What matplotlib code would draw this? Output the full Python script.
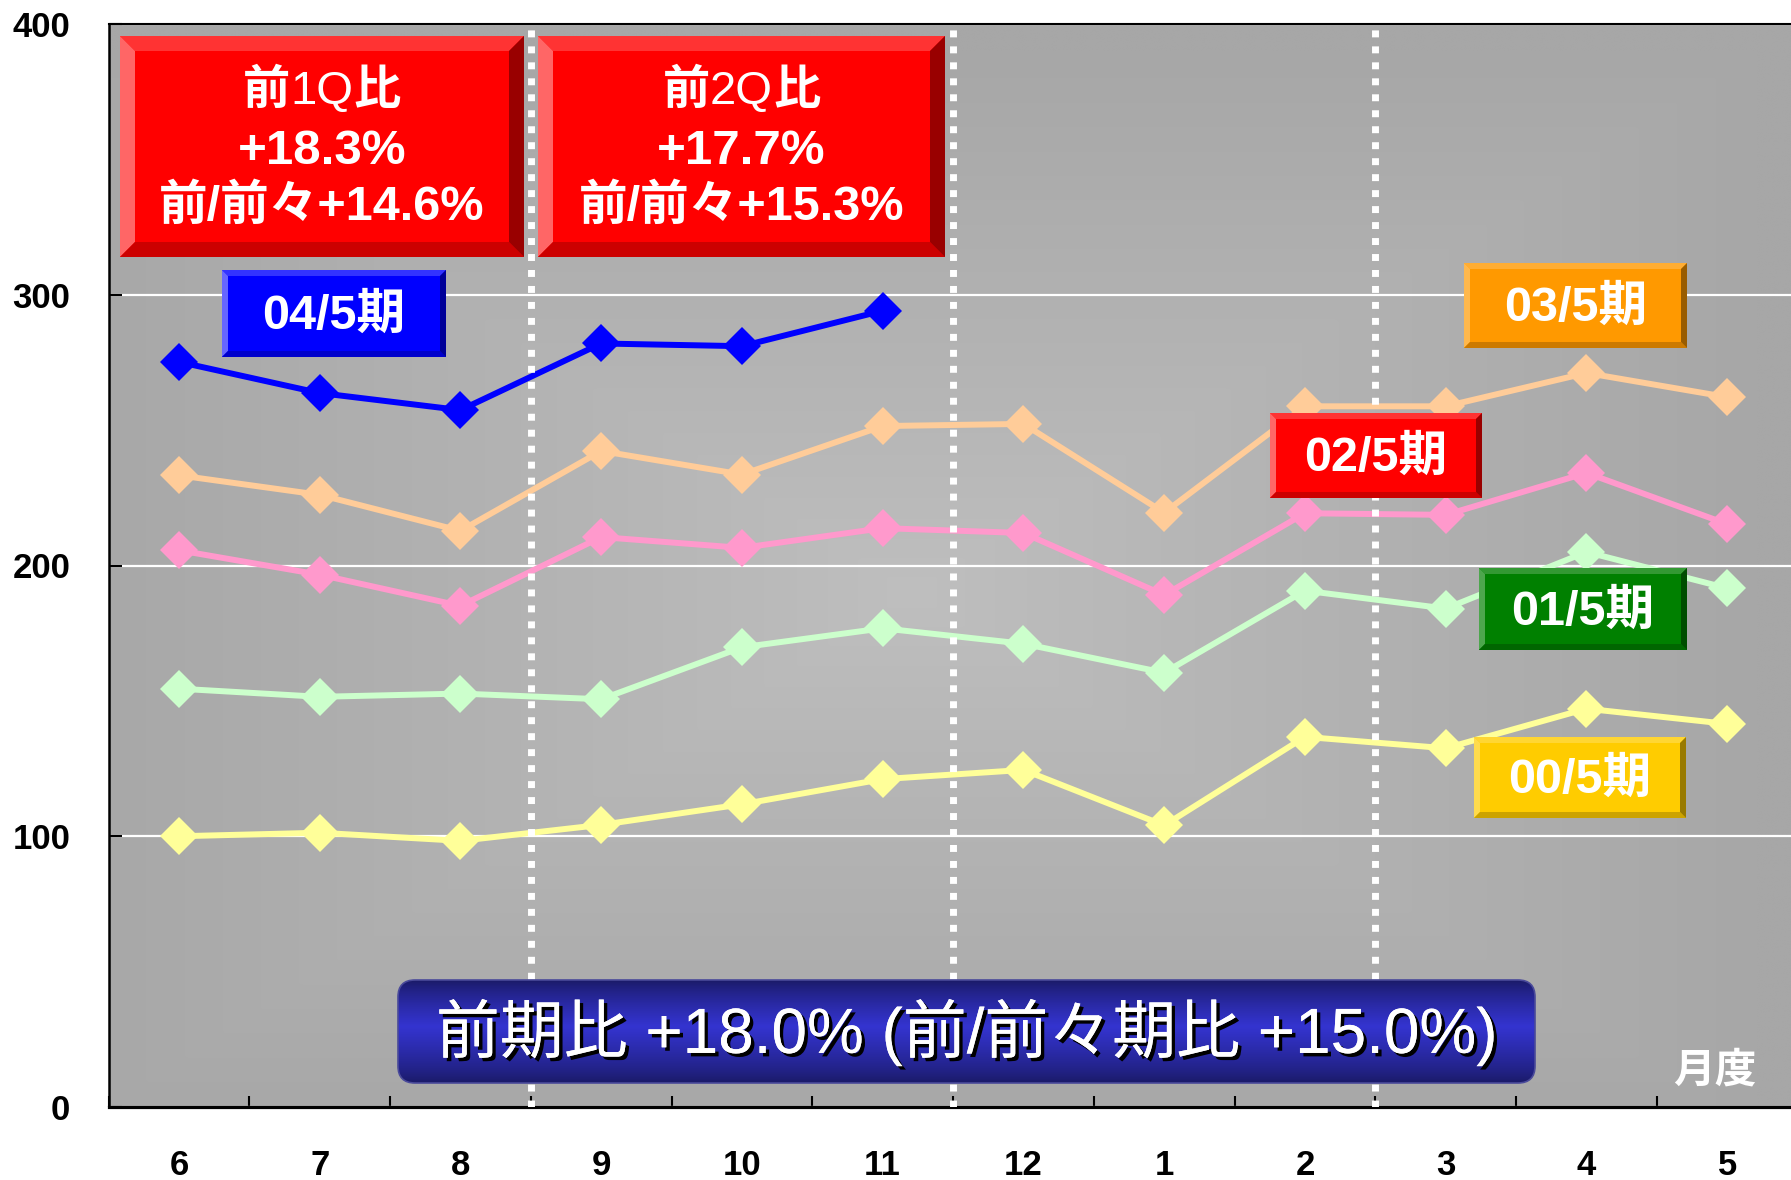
import numpy as np
import matplotlib
matplotlib.use('Agg')
import matplotlib.pyplot as plt
from matplotlib.patches import Polygon, Rectangle, FancyBboxPatch
import matplotlib.patheffects as pe

plt.rcParams['font.family'] = ['Liberation Sans', 'Noto Sans CJK JP']

# ---------------- data ----------------
months = ['6', '7', '8', '9', '10', '11', '12', '1', '2', '3', '4', '5']
yticks = [0, 100, 200, 300, 400]
quarter_bounds = [2.5, 5.5, 8.5]

s00 = [100.0, 101.3, 98.3, 104.2, 111.8, 121.1, 124.5, 104.0, 136.7, 132.5, 147.1, 141.5]
s01 = [154.5, 151.5, 152.7, 150.6, 169.8, 176.8, 171.1, 160.4, 190.7, 184.1, 205.0, 191.6]
s02 = [205.6, 196.6, 185.1, 210.5, 206.5, 213.8, 212.0, 189.1, 219.3, 218.7, 234.2, 215.3]
s03 = [233.3, 226.1, 212.8, 242.3, 233.6, 251.5, 252.3, 219.5, 258.8, 258.8, 271.1, 262.2]
s04 = [275.2, 263.7, 257.4, 282.0, 281.0, 294.1]

series = [s00, s01, s02, s03, s04]
series_names = ['00/5期', '01/5期', '02/5期', '03/5期', '04/5期']
line_colors = ['#FFFF99', '#CCFFCC', '#FF99CC', '#FFCC99', '#0000FF']

box1_title = ['前', '1Q', '比']
box2_title = ['前', '2Q', '比']
box1_lines = ['+18.3%', '前/前々+14.6%']
box2_lines = ['+17.7%', '前/前々+15.3%']
summary_text = '前期比 +18.0% (前/前々期比 +15.0%)'
unit_text = '月度'

# ---------------- figure ----------------
W, H = 1791, 1180
fig = plt.figure(figsize=(W / 100, H / 100), dpi=100)
fig.patch.set_facecolor('white')

ax_l, ax_r, ax_t, ax_b = 108.5, 1797.6, 24, 1107
ax = fig.add_axes([ax_l / W, 1 - ax_b / H, (ax_r - ax_l) / W, (ax_b - ax_t) / H])

# background gradient (rectangular, lighter at centre)
ny, nx = 300, 500
gx = np.linspace(-1, 1, nx)
gy = np.linspace(-1, 1, ny)
GX, GY = np.meshgrid(gx, gy)
cx, cy = -0.05, 0.05
t = np.maximum(np.abs(GX - cx) / 1.0, np.abs(GY - cy) / 1.0)
t = np.clip(t, 0, 1) ** 0.9
c_center, c_edge = 191 / 255, 167 / 255
val = c_center * (1 - t) + c_edge * t
img = np.dstack([val, val, val])
ax.imshow(img, extent=(-0.5, 11.5, 0, 400), aspect='auto', zorder=0,
          interpolation='bilinear', origin='upper')

ax.set_axisbelow(True)
ax.grid(axis='y', color='white', lw=1.6)
ax.grid(axis='x', visible=False)

x = np.arange(len(months))
for vals, col in zip(series, line_colors):
    xs = x[:len(vals)]
    ax.plot(xs, vals, color=col, lw=4.3, marker='D', ms=19, mec=col, mew=0, zorder=2)

for b in quarter_bounds:
    ax.axvline(b, color='white', lw=5, linestyle=(0, (1, 1.3)), zorder=3)

ax.set_xlim(-0.5, 11.5)
ax.set_ylim(0, 400)

ax.set_yticks(yticks)
ax.set_yticklabels([str(v) for v in yticks], fontsize=25, fontweight='bold')
ax.tick_params(axis='y', direction='in', length=9, width=1.5, pad=27.5)

ax.set_xticks(np.arange(-0.5, 12, 1))
ax.set_xticklabels([])
ax.set_xticks(x, minor=True)
ax.set_xticklabels(months, minor=True, fontsize=25, fontweight='bold')
ax.tick_params(axis='x', which='major', direction='in', length=8, width=1.5)
ax.tick_params(axis='x', which='minor', length=0, pad=30)

for side, lw in [('left', 1.8), ('bottom', 2.3), ('top', 1.5)]:
    ax.spines[side].set_linewidth(lw)
    ax.spines[side].set_color('black')
ax.spines['right'].set_visible(False)

# ---------------- overlay for annotation boxes (pixel coords) ----------------
ov = fig.add_axes([0, 0, 1, 1], zorder=5)
ov.set_xlim(0, W)
ov.set_ylim(H, 0)
ov.axis('off')
ov.patch.set_alpha(0)
renderer = fig.canvas.get_renderer()


def bevel_box(x0, y0, x1, y1, b, face, top, left, bottom, right):
    ov.add_patch(Rectangle((x0, y0), x1 - x0, y1 - y0, facecolor=face, edgecolor='none'))
    ov.add_patch(Polygon([(x0, y0), (x1, y0), (x1 - b, y0 + b), (x0 + b, y0 + b)],
                         closed=True, facecolor=top, edgecolor='none'))
    ov.add_patch(Polygon([(x0, y0), (x0 + b, y0 + b), (x0 + b, y1 - b), (x0, y1)],
                         closed=True, facecolor=left, edgecolor='none'))
    ov.add_patch(Polygon([(x0, y1), (x0 + b, y1 - b), (x1 - b, y1 - b), (x1, y1)],
                         closed=True, facecolor=bottom, edgecolor='none'))
    ov.add_patch(Polygon([(x1, y0), (x1, y1), (x1 - b, y1 - b), (x1 - b, y0 + b)],
                         closed=True, facecolor=right, edgecolor='none'))


def mixed_line(xc, yy, pieces, weights, fs):
    texts = [ov.text(0, yy, p, color='white', fontsize=fs, fontweight=w,
                     ha='left', va='center') for p, w in zip(pieces, weights)]
    widths = [tx.get_window_extent(renderer).width for tx in texts]
    xpos = xc - sum(widths) / 2
    for tx, wd in zip(texts, widths):
        tx.set_x(xpos)
        xpos += wd


red = dict(face='#FF0000', top='#FF3333', left='#FF6666', bottom='#CC0000', right='#990000')
blue = dict(face='#0000FF', top='#3333FF', left='#6666FF', bottom='#0000CC', right='#000099')
orange = dict(face='#FF9900', top='#FFAD33', left='#FFB84D', bottom='#CC7A00', right='#995C00')
green = dict(face='#008000', top='#339933', left='#4DA64D', bottom='#006600', right='#004D00')
yellow = dict(face='#FFCC00', top='#FFD633', left='#FFDB4D', bottom='#CCA300', right='#997A00')

# quarter comparison boxes
for (x0, x1), title, lines in [((120, 524), box1_title, box1_lines),
                               ((538, 945), box2_title, box2_lines)]:
    bevel_box(x0, 36, x1, 257, 15, **red)
    xc = (x0 + x1) / 2
    mixed_line(xc, 92, title, ['bold', 'normal', 'bold'], 34)
    for yy, s, fs in zip([151, 207], lines, [35.5, 35]):
        ov.text(xc, yy, s, color='white', fontsize=fs, fontweight='bold',
                ha='center', va='center')

# series label boxes
label_boxes = [
    ((1474, 737, 1686, 818), yellow),
    ((1479, 568, 1687, 650), green),
    ((1270, 413, 1482, 498), red),
    ((1464, 263, 1687, 348), orange),
    ((222, 270, 446, 357), blue),
]
for name, ((x0, y0, x1, y1), sty) in zip(series_names, label_boxes):
    bevel_box(x0, y0, x1, y1, 6, **sty)
    ov.text((x0 + x1) / 2, (y0 + y1) / 2 + 3, name, color='white', fontsize=35,
            fontweight='bold', ha='center', va='center')

# summary rounded box with vertical gradient
bx0, by0, bx1, by1 = 398, 980, 1535, 1083
fb = FancyBboxPatch((bx0, by0), bx1 - bx0, by1 - by0,
                    boxstyle='round,pad=0,rounding_size=17',
                    facecolor='none', edgecolor='#4a4a9a', lw=1.2, zorder=6)
ov.add_patch(fb)
gv = np.linspace(0, 1, 200)
top_c = np.array([0x1A, 0x1A, 0x66]) / 255
mid_c = np.array([0x34, 0x34, 0xD0]) / 255
prof = np.where(gv < 0.45, gv / 0.45, (1 - gv) / 0.55)
prof = np.clip(prof, 0, 1) ** 0.8
grad = top_c[None, :] * (1 - prof[:, None]) + mid_c[None, :] * prof[:, None]
grad_img = np.repeat(grad[:, None, :], 4, axis=1)
im = ov.imshow(grad_img, extent=(bx0, bx1, by1, by0), aspect='auto', zorder=5,
               interpolation='bilinear', origin='upper')
im.set_clip_path(fb)
ov.text((bx0 + bx1) / 2, (by0 + by1) / 2 + 1, summary_text, color='white', fontsize=46,
        ha='center', va='center', zorder=7,
        path_effects=[pe.withSimplePatchShadow(offset=(2.5, -2.5), shadow_rgbFace='black', alpha=1.0),
                      pe.Normal()])

ov.text(1715, 1071, unit_text, color='white', fontsize=30, fontweight='bold',
        ha='center', va='center')

ov.set_xlim(0, W)
ov.set_ylim(H, 0)

fig.savefig('out.png', dpi=100)
